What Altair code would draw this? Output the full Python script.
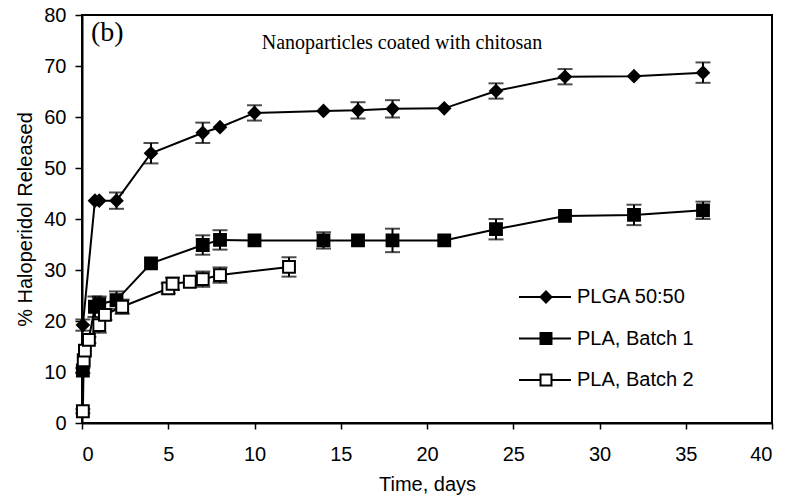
import altair as alt
import pandas as pd

series_names = ["PLGA 50:50", "PLA, Batch 1", "PLA, Batch 2"]

plga_t = [0.05, 0.75, 1, 2, 4, 7, 8, 10, 14, 16, 18, 21, 24, 28, 32, 36]
plga_y = [19.2, 43.6, 43.6, 43.6, 52.9, 56.9, 58.0, 60.8, 61.2, 61.3, 61.6, 61.7, 65.1, 67.9, 68.0, 68.7]
plga_e = [1.1, 0, 0, 1.6, 2.0, 2.0, 0, 1.5, 0, 1.6, 1.7, 0, 1.5, 1.5, 0, 2.0]

b1_t = [0.05, 0.75, 1, 2, 4, 7, 8, 10, 14, 16, 18, 21, 24, 28, 32, 36]
b1_y = [10.3, 22.8, 23.3, 24.1, 31.3, 34.9, 35.9, 35.8, 35.8, 35.8, 35.8, 35.8, 38.0, 40.6, 40.8, 41.7]
b1_e = [0.5, 2.0, 1.5, 1.7, 0, 1.9, 1.9, 0, 1.6, 0, 2.3, 0, 2.0, 0, 2.0, 1.7]

b2_t = [0.05, 0.1, 0.17, 0.4, 1, 1.33, 2.33, 5, 5.25, 6.25, 7, 8, 12]
b2_y = [2.3, 12.3, 14.2, 16.3, 19.2, 21.2, 22.8, 26.4, 27.3, 27.7, 28.2, 29.0, 30.6]
b2_e = [0.4, 0, 0, 0.6, 1.5, 1.0, 1.4, 1.0, 1.2, 0, 1.5, 1.5, 1.9]

legend_rows = [0, 1, 2]

rows = []
for name, ts, ys, es in zip(series_names, [plga_t, b1_t, b2_t], [plga_y, b1_y, b2_y], [plga_e, b1_e, b2_e]):
    for t, y, e in zip(ts, ys, es):
        rows.append({"series": name, "t": t, "y": y, "err": e, "lo": y - e, "hi": y + e})
df = pd.DataFrame(rows)
leg_df = pd.DataFrame({"series": series_names, "row": legend_rows})

FONT = "Liberation Sans"
SERIF = "Liberation Serif"

xs = alt.Scale(domain=[0, 40], nice=False, zero=False)
ys = alt.Scale(domain=[0, 80], nice=False)

shape_enc = alt.Shape("series:N", scale=alt.Scale(domain=series_names, range=["diamond", "square", "square"]), legend=None)
fill_enc = alt.Fill("series:N", scale=alt.Scale(domain=series_names, range=["black", "black", "white"]), legend=None)

x_enc = alt.X("t:Q", scale=xs, title="Time, days",
              axis=alt.Axis(values=list(range(0, 41, 5)), grid=False, tickSize=6,
                            labelPadding=15, titlePadding=10))
y_enc = alt.Y("y:Q", scale=ys, title="% Haloperidol Released",
              axis=alt.Axis(values=list(range(0, 81, 10)), grid=False, tickSize=7,
                            labelPadding=9, titlePadding=8))

base = alt.Chart(df)

lines = base.mark_line(color="black", strokeWidth=2).encode(
    x=x_enc, y=y_enc, detail="series:N", order="t:Q")

errdf = base.transform_filter("datum.err > 0")
err_rule = errdf.mark_rule(color="black", strokeWidth=2).encode(
    x="t:Q", y="lo:Q", y2="hi:Q")
cap_lo = errdf.mark_tick(color="black", orient="horizontal", size=15, thickness=2).encode(
    x="t:Q", y="lo:Q")
cap_hi = errdf.mark_tick(color="black", orient="horizontal", size=15, thickness=2).encode(
    x="t:Q", y="hi:Q")

points = base.mark_point(stroke="black", strokeWidth=2, opacity=1, size=140).encode(
    x="t:Q", y="y:Q", shape=shape_enc, fill=fill_enc)

main = alt.layer(lines, err_rule, cap_lo, cap_hi, points)

# legend drawn as its own layer
row_y = alt.Y("row:Q", scale=alt.Scale(domain=[0, 2], range=[282, 365]), axis=None)
lbase = alt.Chart(leg_df)
leg_line = lbase.mark_rule(color="black", strokeWidth=2).encode(
    x=alt.value(437), x2=alt.value(489), y=row_y)
leg_pts = lbase.mark_point(stroke="black", strokeWidth=2, opacity=1, size=120).encode(
    x=alt.value(464), y=row_y, shape=shape_enc, fill=fill_enc)
leg_txt = lbase.mark_text(font=FONT, fontSize=20, color="black", align="left", baseline="middle").encode(
    x=alt.value(495), y=row_y, text="series:N")
legend = alt.layer(leg_line, leg_pts, leg_txt)

label_b = alt.Chart(pd.DataFrame({"txt": ["(b)"]})).mark_text(
    font=SERIF, fontSize=28, color="black", align="left", baseline="middle").encode(
    text="txt:N", x=alt.value(9), y=alt.value(18))
label_note = alt.Chart(pd.DataFrame({"txt": ["Nanoparticles coated with chitosan"]})).mark_text(
    font=SERIF, fontSize=20, color="black", align="center", baseline="middle").encode(
    text="txt:N", x=alt.value(320), y=alt.value(28))

chart = alt.layer(main, legend, label_b, label_note).resolve_scale(
    y="independent"
).properties(
    width=690, height=408,
    autosize=alt.AutoSizeParams(type="none"),
    padding={"left": 74, "top": 7, "right": 10, "bottom": 80},
).configure_view(stroke="black", strokeWidth=2).configure_axis(
    labelFont=FONT, labelFontSize=20, labelColor="black",
    titleFont=FONT, titleFontSize=20, titleFontWeight="normal", titleColor="black",
    domainColor="black", domainWidth=2, tickColor="black", tickWidth=1.5,
)

chart.save("out.html", embed_options={"renderer": "svg", "actions": False})
